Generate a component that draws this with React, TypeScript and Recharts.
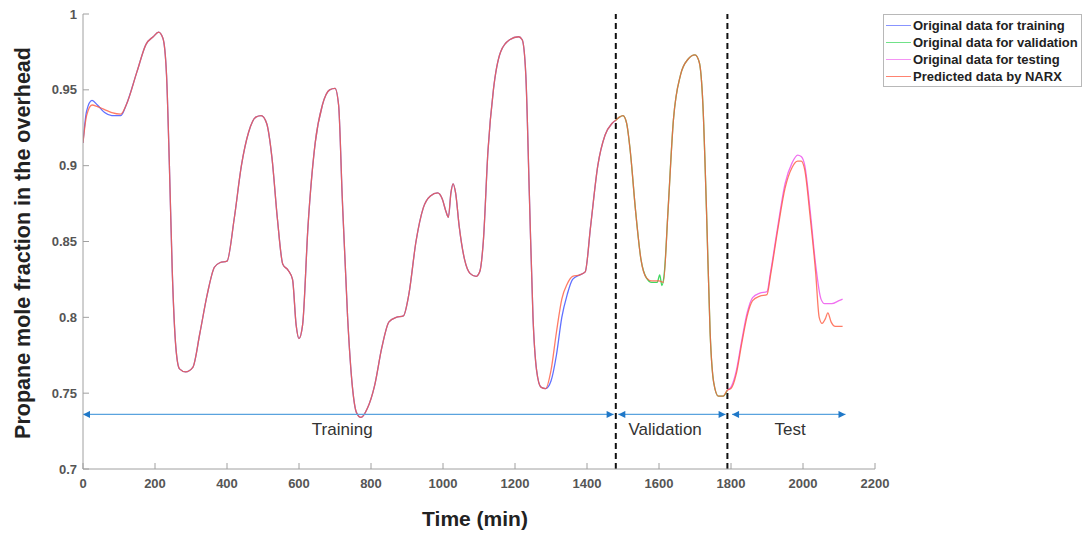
import React from 'react';
import { LineChart, Line, XAxis, YAxis, ReferenceLine, ReferenceDot } from 'recharts';

const FONT = '"Liberation Sans", Arial, Helvetica, sans-serif';

// ---- data (time in min, propane mole fraction) ----
const trainTimes = [0, 10, 25, 40, 60, 80, 105, 120, 150, 175, 195, 210, 222, 232, 240, 248, 258, 268, 285, 305, 325, 345, 365, 380, 400, 420, 440, 460, 480, 495, 510, 525, 540, 555, 570, 582, 592, 600, 610, 625, 645, 665, 685, 700, 710, 720, 735, 748, 760, 772, 790, 810, 830, 850, 870, 890, 905, 925, 945, 965, 985, 998, 1008, 1015, 1022, 1028, 1035, 1045, 1060, 1075, 1092, 1102, 1112, 1125, 1140, 1160, 1185, 1210, 1220, 1230, 1240, 1250, 1260, 1272, 1285, 1300, 1315, 1330, 1345, 1360, 1380, 1395, 1410, 1430, 1450, 1470, 1480];
const trainValues = [0.915, 0.936, 0.943, 0.940, 0.935, 0.933, 0.933, 0.940, 0.962, 0.980, 0.985, 0.988, 0.984, 0.960, 0.900, 0.830, 0.780, 0.766, 0.764, 0.767, 0.790, 0.815, 0.833, 0.836, 0.837, 0.865, 0.900, 0.922, 0.932, 0.933, 0.928, 0.905, 0.865, 0.835, 0.831, 0.825, 0.795, 0.786, 0.795, 0.860, 0.915, 0.940, 0.950, 0.951, 0.940, 0.880, 0.800, 0.755, 0.737, 0.734, 0.740, 0.755, 0.780, 0.797, 0.800, 0.801, 0.815, 0.850, 0.872, 0.880, 0.882, 0.878, 0.870, 0.866, 0.882, 0.888, 0.882, 0.860, 0.838, 0.829, 0.827, 0.830, 0.850, 0.910, 0.950, 0.975, 0.983, 0.985, 0.983, 0.960, 0.880, 0.800, 0.765, 0.754, 0.753, 0.758, 0.775, 0.800, 0.815, 0.825, 0.828, 0.830, 0.860, 0.900, 0.920, 0.928, 0.930];

const validTimes = [1480, 1490, 1500, 1510, 1520, 1535, 1550, 1565, 1580, 1595, 1602, 1608, 1615, 1625, 1640, 1660, 1680, 1700, 1712, 1722, 1732, 1742, 1752, 1765, 1778, 1790];
const validValues = [0.930, 0.932, 0.933, 0.928, 0.910, 0.870, 0.838, 0.826, 0.823, 0.823, 0.828, 0.821, 0.830, 0.870, 0.930, 0.960, 0.970, 0.973, 0.968, 0.940, 0.870, 0.790, 0.757, 0.748, 0.748, 0.752];

const testTimes = [1790, 1800, 1815, 1830, 1845, 1860, 1880, 1900, 1910, 1930, 1950, 1970, 1985, 1995, 2005, 2020, 2035, 2050, 2060, 2080, 2100, 2110];
const testValues = [0.752, 0.754, 0.765, 0.785, 0.803, 0.813, 0.816, 0.817, 0.830, 0.860, 0.888, 0.902, 0.907, 0.906, 0.900, 0.870, 0.835, 0.812, 0.809, 0.809, 0.811, 0.812];

const predTimes = [0, 10, 25, 40, 60, 80, 105, 120, 150, 175, 195, 210, 222, 232, 240, 248, 258, 268, 285, 305, 325, 345, 365, 380, 400, 420, 440, 460, 480, 495, 510, 525, 540, 555, 570, 582, 592, 600, 610, 625, 645, 665, 685, 700, 710, 720, 735, 748, 760, 772, 790, 810, 830, 850, 870, 890, 905, 925, 945, 965, 985, 998, 1008, 1015, 1022, 1028, 1035, 1045, 1060, 1075, 1092, 1102, 1112, 1125, 1140, 1160, 1185, 1210, 1220, 1230, 1240, 1250, 1260, 1272, 1285, 1300, 1315, 1330, 1345, 1360, 1380, 1395, 1410, 1430, 1450, 1470, 1480,
  1490, 1500, 1510, 1520, 1535, 1550, 1565, 1580, 1600, 1612, 1625, 1640, 1660, 1680, 1700, 1712, 1722, 1732, 1742, 1752, 1765, 1778, 1790,
  1800, 1815, 1830, 1845, 1860, 1880, 1900, 1910, 1930, 1950, 1970, 1985, 1995, 2005, 2020, 2035, 2045, 2053, 2062, 2069, 2078, 2090, 2110];
const predValues = [0.915, 0.933, 0.940, 0.939, 0.937, 0.935, 0.934, 0.940, 0.962, 0.980, 0.985, 0.988, 0.984, 0.960, 0.900, 0.830, 0.780, 0.766, 0.764, 0.767, 0.790, 0.815, 0.833, 0.836, 0.837, 0.865, 0.900, 0.922, 0.932, 0.933, 0.928, 0.905, 0.865, 0.835, 0.831, 0.825, 0.795, 0.786, 0.795, 0.860, 0.915, 0.940, 0.950, 0.951, 0.940, 0.880, 0.800, 0.755, 0.737, 0.734, 0.740, 0.755, 0.780, 0.797, 0.800, 0.801, 0.815, 0.850, 0.872, 0.880, 0.882, 0.878, 0.870, 0.866, 0.882, 0.888, 0.882, 0.860, 0.838, 0.829, 0.827, 0.830, 0.850, 0.910, 0.950, 0.975, 0.983, 0.985, 0.983, 0.960, 0.880, 0.800, 0.765, 0.754, 0.753, 0.765, 0.790, 0.812, 0.822, 0.827, 0.828, 0.830, 0.860, 0.900, 0.920, 0.928, 0.930,
  0.932, 0.933, 0.928, 0.910, 0.870, 0.838, 0.826, 0.824, 0.824, 0.823, 0.870, 0.930, 0.960, 0.970, 0.973, 0.968, 0.940, 0.870, 0.790, 0.757, 0.748, 0.748, 0.752,
  0.753, 0.763, 0.783, 0.801, 0.811, 0.814, 0.815, 0.828, 0.858, 0.885, 0.899, 0.903, 0.903, 0.897, 0.866, 0.830, 0.800, 0.796, 0.799, 0.803, 0.797, 0.794, 0.794];

const xTicks = [0, 200, 400, 600, 800, 1000, 1200, 1400, 1600, 1800, 2000, 2200];
const yTicks = [0.7, 0.75, 0.8, 0.85, 0.9, 0.95, 1];

const boundaries = [1480, 1790];
const arrowLevel = 0.736;
const phaseNames = ['Training', 'Validation', 'Test'];
const phaseStarts = [0, 1487, 1803];
const phaseEnds = [1474, 1785, 2118];
const phaseLabelAt = [720, 1617, 1964];

const seriesNames = ['Original data for training', 'Original data for validation', 'Original data for testing', 'Predicted data by NARX'];
const seriesColors = ['#6070ff', '#40d860', '#f070f0', '#ff5a40'];
const seriesOpacity = [1, 1, 1, 0.8];

const zip = (ts: number[], vs: number[]) => ts.map((t, i) => ({ t, v: vs[i] }));
const seriesData = [zip(trainTimes, trainValues), zip(validTimes, validValues), zip(testTimes, testValues), zip(predTimes, predValues)];

const W = 1088;
const H = 534;

const ArrowShape = (props: any) => (
  <line x1={props.x1} y1={props.y1} x2={props.x2} y2={props.y2} stroke="#5aa3de" strokeWidth={1.2}
    markerStart="url(#arrowHead)" markerEnd="url(#arrowHead)" />
);

export default function App() {
  return (
    <div style={{ position: 'absolute', left: 0, top: 0, width: W, height: H, background: '#fff', fontFamily: FONT }}>
      <svg width={0} height={0} style={{ position: 'absolute' }}>
        <defs>
          <marker id="arrowHead" viewBox="0 0 10 10" refX="10" refY="5" markerWidth="8" markerHeight="7"
            markerUnits="userSpaceOnUse" orient="auto-start-reverse">
            <path d="M0,0 L10,5 L0,10 z" fill="#1f78c8" />
          </marker>
        </defs>
      </svg>
      <LineChart width={W} height={H} margin={{ top: 14, right: 213, bottom: 35, left: 43 }}>
        <XAxis xAxisId="b" dataKey="t" type="number" domain={[0, 2200]} ticks={xTicks} allowDataOverflow
          stroke="#a0a0a0" tickSize={-6} tickMargin={16} height={30}
          tick={{ fill: '#555', fontSize: 13, fontWeight: 700, fontFamily: FONT }}
          label={{
            content: () => (
              <text x={475} y={526} textAnchor="middle" fontSize={21} fontWeight={700} fill="#222" fontFamily={FONT}>Time (min)</text>
            ),
          }} />
        <XAxis xAxisId="tp" orientation="top" dataKey="t" type="number" domain={[0, 2200]} ticks={xTicks}
          stroke="#a0a0a0" tickSize={-6} tick={false} height={0} />
        <YAxis yAxisId="l" type="number" domain={[0.7, 1]} ticks={yTicks} allowDataOverflow
          stroke="#a0a0a0" tickSize={-6} tickMargin={12} width={40}
          tickFormatter={(v: number) => String(+v.toFixed(2))}
          tick={{ fill: '#555', fontSize: 13, fontWeight: 700, fontFamily: FONT }}
          label={{
            content: () => (
              <text x={0} y={0} transform={`translate(30, 243) rotate(-90)`} textAnchor="middle" fontSize={21.5}
                fontWeight={700} fill="#222" fontFamily={FONT}>Propane mole fraction in the overhead</text>
            ),
          }} />
        <YAxis yAxisId="r" orientation="right" type="number" domain={[0.7, 1]} ticks={yTicks}
          stroke="#a0a0a0" tickSize={-6} tick={false} width={0} />

        {seriesData.map((d, i) => (
          <Line key={seriesNames[i]} xAxisId="b" yAxisId="l" data={d} dataKey="v" name={seriesNames[i]}
            type="monotone" dot={false} stroke={seriesColors[i]} strokeWidth={1.3}
            strokeOpacity={seriesOpacity[i]} isAnimationActive={false} />
        ))}

        {boundaries.map((b) => (
          <ReferenceLine key={b} xAxisId="b" yAxisId="l" x={b} stroke="#111" strokeWidth={2} strokeDasharray="6 4" />
        ))}

        {phaseNames.map((n, i) => (
          <ReferenceLine key={'arr' + n} xAxisId="b" yAxisId="l" ifOverflow="visible"
            segment={[{ x: phaseStarts[i], y: arrowLevel }, { x: phaseEnds[i], y: arrowLevel }]}
            shape={ArrowShape} />
        ))}
        {phaseNames.map((n, i) => (
          <ReferenceDot key={'lab' + n} xAxisId="b" yAxisId="l" x={phaseLabelAt[i]} y={arrowLevel} r={0}
            fill="none" stroke="none"
            label={{ value: n, position: 'bottom', offset: 9, fontSize: 17, fill: '#333', fontFamily: FONT }} />
        ))}
      </LineChart>

      <div style={{
        position: 'absolute', left: 883, top: 14, width: 197, height: 71, border: '1px solid #b8b8b8',
        background: '#fff', boxSizing: 'content-box',
      }}>
        {seriesNames.map((n, i) => (
          <div key={n} style={{ display: 'flex', alignItems: 'center', height: 17, marginTop: i === 0 ? 2 : 0 }}>
            <div style={{ width: 25, flex: '0 0 25px', height: 0, borderTop: `1.3px solid ${seriesColors[i]}`, opacity: 0.75, marginLeft: 2, marginRight: 2 }} />
            <span style={{ fontSize: 13, fontWeight: 700, color: '#222', whiteSpace: 'nowrap', fontFamily: FONT }}>{n}</span>
          </div>
        ))}
      </div>
    </div>
  );
}
